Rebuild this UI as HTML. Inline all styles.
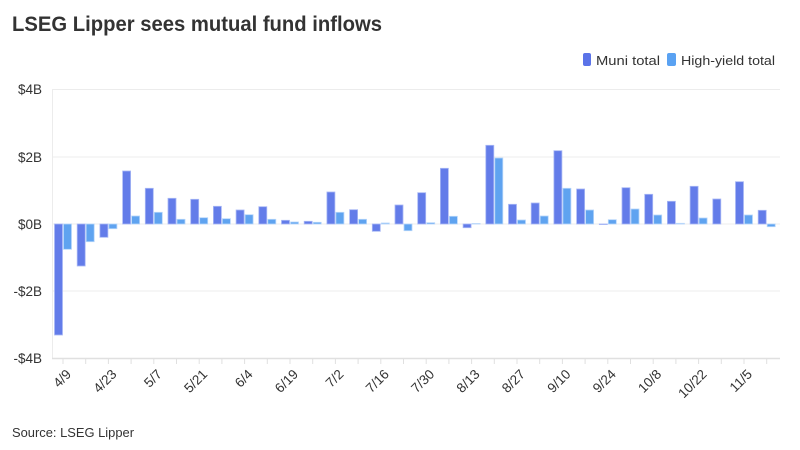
<!DOCTYPE html>
<html><head><meta charset="utf-8"><style>
body{margin:0;background:#fff;}
svg{display:block;font-family:"Liberation Sans",sans-serif;}
</style></head><body>
<svg width="800" height="450" viewBox="0 0 800 450">
<rect width="800" height="450" fill="#fff"/>
<text x="12" y="31" font-size="21" font-weight="bold" fill="#333" textLength="370" lengthAdjust="spacingAndGlyphs">LSEG Lipper sees mutual fund inflows</text>
<rect x="583" y="53" width="8" height="13" rx="2" fill="#5b73e8"/>
<text x="596" y="65" font-size="13" fill="#333" textLength="64" lengthAdjust="spacingAndGlyphs">Muni total</text>
<rect x="667" y="53" width="9" height="13" rx="2" fill="#5aa2f2"/>
<text x="681" y="65" font-size="13" fill="#333" textLength="94" lengthAdjust="spacingAndGlyphs">High-yield total</text>
<g stroke="#ececec" stroke-width="1">
<line x1="52" y1="89.5" x2="780" y2="89.5"/>
<line x1="52" y1="157" x2="780" y2="157"/>
<line x1="52" y1="224" x2="780" y2="224"/>
<line x1="52" y1="291" x2="780" y2="291"/>
<line x1="52.5" y1="89" x2="52.5" y2="358"/>
</g>
<line x1="52" y1="358.5" x2="780" y2="358.5" stroke="#e0e0e0" stroke-width="1.5"/>
<g font-size="13.5" fill="#333" text-anchor="end">
<text x="42" y="94">$4B</text>
<text x="42" y="162">$2B</text>
<text x="42" y="229">$0B</text>
<text x="42" y="296">-$2B</text>
<text x="42" y="363">-$4B</text>
</g>
<g stroke="#a9b8f5" stroke-width="0.8" fill="#637ce9">
<rect x="54.5" y="224" width="8" height="111"/>
<rect x="77.2" y="224" width="8" height="42"/>
<rect x="99.9" y="224" width="8" height="13.3"/>
<rect x="122.6" y="171" width="8" height="53"/>
<rect x="145.3" y="188.3" width="8" height="35.7"/>
<rect x="168" y="198.3" width="8" height="25.7"/>
<rect x="190.7" y="199.3" width="8" height="24.7"/>
<rect x="213.4" y="206.3" width="8" height="17.7"/>
<rect x="236.1" y="210" width="8" height="14"/>
<rect x="258.8" y="206.7" width="8" height="17.3"/>
<rect x="281.5" y="220.3" width="8" height="3.7"/>
<rect x="304.2" y="221.3" width="8" height="2.7"/>
<rect x="326.9" y="192" width="8" height="32"/>
<rect x="349.6" y="209.7" width="8" height="14.3"/>
<rect x="372.3" y="224" width="8" height="7.3"/>
<rect x="395" y="205" width="8" height="19"/>
<rect x="417.7" y="192.7" width="8" height="31.3"/>
<rect x="440.4" y="168.3" width="8" height="55.7"/>
<rect x="463.1" y="224" width="8" height="3.7"/>
<rect x="485.8" y="145.3" width="8" height="78.7"/>
<rect x="508.5" y="204.3" width="8" height="19.7"/>
<rect x="531.2" y="203" width="8" height="21"/>
<rect x="553.9" y="150.7" width="8" height="73.3"/>
<rect x="576.6" y="189" width="8" height="35"/>
<rect x="599.3" y="224" width="8" height="0.6"/>
<rect x="622" y="187.7" width="8" height="36.3"/>
<rect x="644.7" y="194.3" width="8" height="29.7"/>
<rect x="667.4" y="201.3" width="8" height="22.7"/>
<rect x="690.1" y="186.3" width="8" height="37.7"/>
<rect x="712.8" y="199" width="8" height="25"/>
<rect x="735.5" y="181.7" width="8" height="42.3"/>
<rect x="758.2" y="210.3" width="8" height="13.7"/>
</g>
<g stroke="#b7d6fa" stroke-width="0.8" fill="#5fa3f0">
<rect x="63.5" y="224" width="8" height="25.3"/>
<rect x="86.2" y="224" width="8" height="17.7"/>
<rect x="108.9" y="224" width="8" height="4.7"/>
<rect x="131.6" y="216" width="8" height="8"/>
<rect x="154.3" y="212.3" width="8" height="11.7"/>
<rect x="177" y="219.3" width="8" height="4.7"/>
<rect x="199.7" y="217.7" width="8" height="6.3"/>
<rect x="222.4" y="218.7" width="8" height="5.3"/>
<rect x="245.1" y="214.7" width="8" height="9.3"/>
<rect x="267.8" y="219.3" width="8" height="4.7"/>
<rect x="290.5" y="222" width="8" height="2"/>
<rect x="313.2" y="222.3" width="8" height="1.7"/>
<rect x="335.9" y="212.3" width="8" height="11.7"/>
<rect x="358.6" y="219.3" width="8" height="4.7"/>
<rect x="381.3" y="223" width="8" height="1"/>
<rect x="404" y="224" width="8" height="6.7"/>
<rect x="426.7" y="222.7" width="8" height="1.3"/>
<rect x="449.4" y="216.3" width="8" height="7.7"/>
<rect x="472.1" y="223.5" width="8" height="0.5"/>
<rect x="494.8" y="158" width="8" height="66"/>
<rect x="517.5" y="220" width="8" height="4"/>
<rect x="540.2" y="216" width="8" height="8"/>
<rect x="562.9" y="188.3" width="8" height="35.7"/>
<rect x="585.6" y="210" width="8" height="14"/>
<rect x="608.3" y="219.7" width="8" height="4.3"/>
<rect x="631" y="209" width="8" height="15"/>
<rect x="653.7" y="215" width="8" height="9"/>
<rect x="676.4" y="223.3" width="8" height="0.7"/>
<rect x="699.1" y="218" width="8" height="6"/>
<rect x="744.5" y="215" width="8" height="9"/>
<rect x="767.2" y="224" width="8" height="2.7"/>
</g>
<g stroke="#e0e0e0" stroke-width="1">
<line x1="63" y1="358" x2="63" y2="364"/><line x1="85.7" y1="358" x2="85.7" y2="364"/><line x1="108.4" y1="358" x2="108.4" y2="364"/><line x1="131.1" y1="358" x2="131.1" y2="364"/><line x1="153.8" y1="358" x2="153.8" y2="364"/><line x1="176.5" y1="358" x2="176.5" y2="364"/><line x1="199.2" y1="358" x2="199.2" y2="364"/><line x1="221.9" y1="358" x2="221.9" y2="364"/><line x1="244.6" y1="358" x2="244.6" y2="364"/><line x1="267.3" y1="358" x2="267.3" y2="364"/><line x1="290" y1="358" x2="290" y2="364"/><line x1="312.7" y1="358" x2="312.7" y2="364"/><line x1="335.4" y1="358" x2="335.4" y2="364"/><line x1="358.1" y1="358" x2="358.1" y2="364"/><line x1="380.8" y1="358" x2="380.8" y2="364"/><line x1="403.5" y1="358" x2="403.5" y2="364"/><line x1="426.2" y1="358" x2="426.2" y2="364"/><line x1="448.9" y1="358" x2="448.9" y2="364"/><line x1="471.6" y1="358" x2="471.6" y2="364"/><line x1="494.3" y1="358" x2="494.3" y2="364"/><line x1="517" y1="358" x2="517" y2="364"/><line x1="539.7" y1="358" x2="539.7" y2="364"/><line x1="562.4" y1="358" x2="562.4" y2="364"/><line x1="585.1" y1="358" x2="585.1" y2="364"/><line x1="607.8" y1="358" x2="607.8" y2="364"/><line x1="630.5" y1="358" x2="630.5" y2="364"/><line x1="653.2" y1="358" x2="653.2" y2="364"/><line x1="675.9" y1="358" x2="675.9" y2="364"/><line x1="698.6" y1="358" x2="698.6" y2="364"/><line x1="721.3" y1="358" x2="721.3" y2="364"/><line x1="744" y1="358" x2="744" y2="364"/><line x1="766.7" y1="358" x2="766.7" y2="364"/>
</g>
<g font-size="13.5" fill="#333" text-anchor="end">
<text transform="translate(72,375) rotate(-45)">4/9</text>
<text transform="translate(117.4,375) rotate(-45)">4/23</text>
<text transform="translate(162.8,375) rotate(-45)">5/7</text>
<text transform="translate(208.2,375) rotate(-45)">5/21</text>
<text transform="translate(253.6,375) rotate(-45)">6/4</text>
<text transform="translate(299,375) rotate(-45)">6/19</text>
<text transform="translate(344.4,375) rotate(-45)">7/2</text>
<text transform="translate(389.8,375) rotate(-45)">7/16</text>
<text transform="translate(435.2,375) rotate(-45)">7/30</text>
<text transform="translate(480.6,375) rotate(-45)">8/13</text>
<text transform="translate(526,375) rotate(-45)">8/27</text>
<text transform="translate(571.4,375) rotate(-45)">9/10</text>
<text transform="translate(616.8,375) rotate(-45)">9/24</text>
<text transform="translate(662.2,375) rotate(-45)">10/8</text>
<text transform="translate(707.6,375) rotate(-45)">10/22</text>
<text transform="translate(753,375) rotate(-45)">11/5</text>
</g>
<text x="12" y="437" font-size="13" fill="#333" textLength="122" lengthAdjust="spacingAndGlyphs">Source: LSEG Lipper</text>
</svg>
</body></html>
